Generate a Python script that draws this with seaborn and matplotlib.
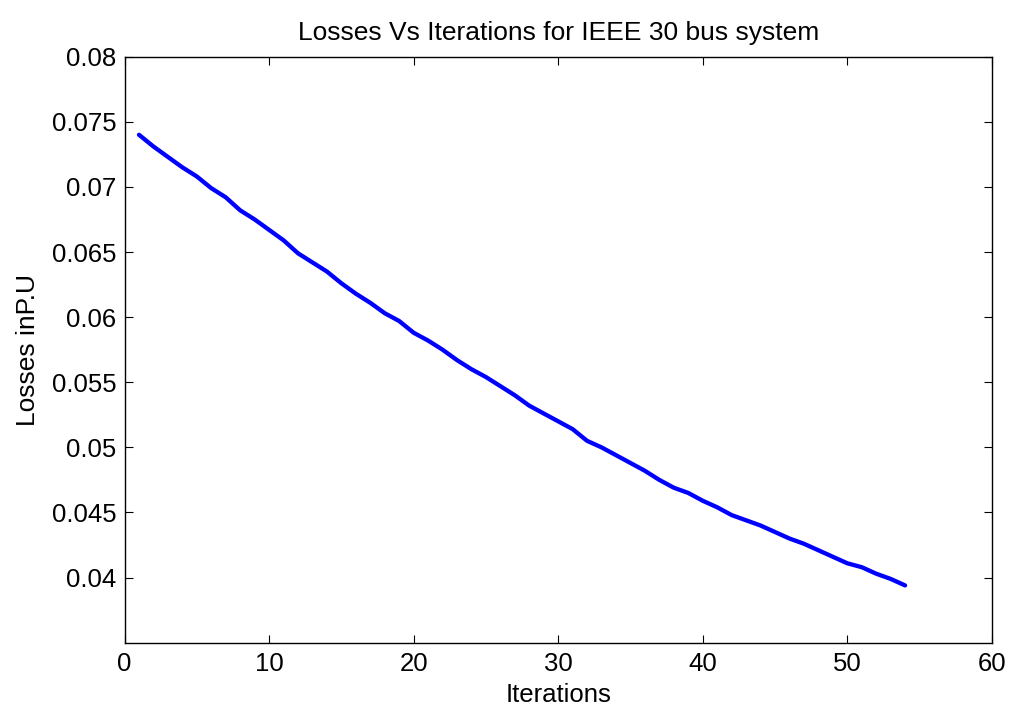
import matplotlib
matplotlib.use("Agg")
import matplotlib.pyplot as plt
import seaborn as sns
import pandas as pd
import numpy as np

iterations = list(range(1, 55))
losses = [0.0740, 0.0731, 0.0723, 0.0715, 0.0708, 0.0699, 0.0692, 0.0682, 0.0675, 0.0667,
          0.0659, 0.0649, 0.0642, 0.0635, 0.0626, 0.0618, 0.0611, 0.0603, 0.0597, 0.0588,
          0.0582, 0.0575, 0.0567, 0.0560, 0.0554, 0.0547, 0.0540, 0.0532, 0.0526, 0.0520,
          0.0514, 0.0505, 0.0500, 0.0494, 0.0488, 0.0482, 0.0475, 0.0469, 0.0465, 0.0459,
          0.0454, 0.0448, 0.0444, 0.0440, 0.0435, 0.0430, 0.0426, 0.0421, 0.0416, 0.0411,
          0.0408, 0.0403, 0.0399, 0.0394]
x_ticks = [0, 10, 20, 30, 40, 50, 60]
y_ticks = [0.04, 0.045, 0.05, 0.055, 0.06, 0.065, 0.07, 0.075, 0.08]
y_tick_labels = ["0.04", "0.045", "0.05", "0.055", "0.06", "0.065", "0.07", "0.075", "0.08"]

sns.set_theme(style="ticks")
plt.rcParams['font.family'] = ['Liberation Sans', 'DejaVu Sans']

df = pd.DataFrame({"Iterations": iterations, "Losses": losses})

fig = plt.figure(figsize=(10.1, 7.08), dpi=100)
ax = fig.add_axes([0.1233, 0.0922, 0.982 - 0.1233, 0.920 - 0.0922])
sns.lineplot(data=df, x="Iterations", y="Losses", ax=ax, color="#0000ff", linewidth=3.1)

ax.set_xlim(0, 60)
ax.set_ylim(0.035, 0.08)
ax.set_xticks(x_ticks)
ax.set_xticklabels([str(t) for t in x_ticks])
ax.set_yticks(y_ticks)
ax.set_yticklabels(y_tick_labels)
ax.tick_params(direction="in", length=6, width=0.8, top=True, right=True,
               labelsize=18.5, colors="black", pad=6)
ax.tick_params(axis="x", pad=7)
for s in ax.spines.values():
    s.set_visible(True)
    s.set_color("black")
    s.set_linewidth(1.0)

ax.set_title("Losses Vs Iterations for IEEE 30 bus system", fontsize=19, pad=12, color="black")
ax.set_xlabel("Iterations", fontsize=18.5, labelpad=5, color="black")
ax.set_ylabel("Losses inP.U", fontsize=19, labelpad=8, color="black")

fig.savefig("out.png", dpi=100)
